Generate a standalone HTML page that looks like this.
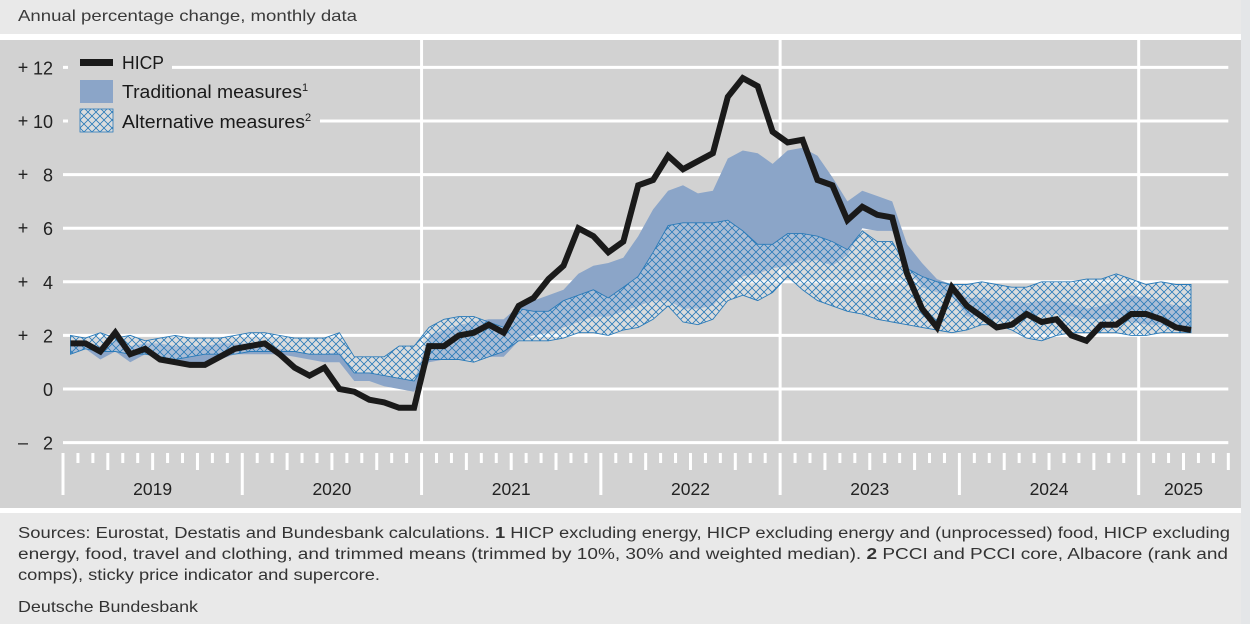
<!DOCTYPE html>
<html><head><meta charset="utf-8"><style>
html,body{margin:0;padding:0;background:#e4e6e8;}
svg{display:block;font-family:"Liberation Sans",sans-serif;}
</style></head><body>
<svg id="chart" width="1250" height="624" viewBox="0 0 1250 624">
<defs>
<pattern id="hatch" patternUnits="userSpaceOnUse" width="8" height="8">
<rect width="8" height="8" fill="rgba(235,238,242,0.35)"/>
<path d="M0,0 L8,8 M8,0 L0,8" stroke="#2a7ab8" stroke-width="0.8" fill="none"/>
</pattern>
</defs>
<rect x="0" y="0" width="1241" height="624" fill="#e9e9e9"/>
<text x="18" y="21" font-size="16" fill="#3a3a3a" textLength="339" lengthAdjust="spacingAndGlyphs">Annual percentage change, monthly data</text>
<rect x="0" y="34" width="1241" height="6" fill="#ffffff"/>
<rect x="0" y="40" width="1241" height="468" fill="#d2d2d2"/>
<rect x="0" y="508" width="1241" height="5" fill="#ffffff"/>
<g id="grid"></g>
<g id="bands"></g>
<g id="hicpg"></g>
<g id="axes"></g>
<g>
<rect x="68" y="55" width="104" height="24" fill="#d2d2d2"/>
<rect x="68" y="108" width="252" height="27" fill="#d2d2d2"/>
<rect x="80" y="59" width="33" height="7" fill="#1a1a1a"/>
<text x="122" y="69" font-size="18" fill="#1a1a1a" textLength="42" lengthAdjust="spacingAndGlyphs">HICP</text>
<rect x="80" y="80" width="33" height="23" fill="#8ba5c8"/>
<text x="122" y="98" font-size="18" fill="#1a1a1a"><tspan textLength="180" lengthAdjust="spacingAndGlyphs">Traditional measures</tspan><tspan font-size="11" dy="-7">1</tspan></text>
<rect x="80" y="109" width="33" height="23" fill="url(#hatch)" stroke="#2a7ab8" stroke-width="0.8"/>
<text x="122" y="128" font-size="18" fill="#1a1a1a"><tspan textLength="183" lengthAdjust="spacingAndGlyphs">Alternative measures</tspan><tspan font-size="11" dy="-7">2</tspan></text>
</g>
<g font-size="15.5" fill="#333">
<text x="18" y="538" textLength="1212" lengthAdjust="spacingAndGlyphs">Sources: Eurostat, Destatis and Bundesbank calculations. <tspan font-weight="bold">1</tspan> HICP excluding energy, HICP excluding energy and (unprocessed) food, HICP excluding</text>
<text x="18" y="559" textLength="1210" lengthAdjust="spacingAndGlyphs">energy, food, travel and clothing, and trimmed means (trimmed by 10%, 30% and weighted median). <tspan font-weight="bold">2</tspan> PCCI and PCCI core, Albacore (rank and</text>
<text x="18" y="580" textLength="362" lengthAdjust="spacingAndGlyphs">comps), sticky price indicator and supercore.</text>
<text x="18" y="612" font-size="16" textLength="180" lengthAdjust="spacingAndGlyphs">Deutsche Bundesbank</text>
</g>
</svg>
<script>
const years = ["2019","2020","2021","2022","2023","2024","2025"];
const yTicks = [12,10,8,6,4,2,0,-2];
const hicp = [1.7,1.7,1.4,2.1,1.3,1.5,1.1,1.0,0.9,0.9,1.2,1.5,
1.6,1.7,1.3,0.8,0.5,0.8,0.0,-0.1,-0.4,-0.5,-0.7,-0.7,
1.6,1.6,2.0,2.1,2.4,2.1,3.1,3.4,4.1,4.6,6.0,5.7,
5.1,5.5,7.6,7.8,8.7,8.2,8.5,8.8,10.9,11.6,11.3,9.6,
9.2,9.3,7.8,7.6,6.3,6.8,6.5,6.4,4.3,3.0,2.3,3.8,
3.1,2.7,2.3,2.4,2.8,2.5,2.6,2.0,1.8,2.4,2.4,2.8,
2.8,2.6,2.3,2.2];
const tradUpper = [1.8,1.7,1.6,1.8,1.6,1.7,1.7,1.6,1.6,1.6,1.7,1.7,
1.7,1.6,1.5,1.4,1.3,1.3,1.4,0.6,0.6,0.5,0.4,0.3,
2.0,2.2,2.4,2.5,2.6,2.6,3.1,3.3,3.5,3.7,4.3,4.6,
4.7,4.9,5.7,6.7,7.4,7.6,7.3,7.4,8.6,8.9,8.8,8.4,
8.9,9.0,8.7,7.9,7.0,7.4,7.2,7.0,5.4,4.7,4.1,3.9,
3.4,3.4,3.3,3.3,3.2,3.3,3.3,3.2,3.0,3.1,3.3,3.5,
3.4,3.3,3.1,3.1];
const tradLower = [1.3,1.5,1.1,1.4,1.0,1.3,1.2,1.0,1.0,1.0,1.1,1.3,
1.3,1.3,1.3,1.2,1.1,1.0,1.0,0.3,0.3,0.1,0.0,-0.1,
1.0,1.1,1.1,1.1,1.2,1.2,1.8,2.0,2.1,2.3,2.5,2.7,
2.7,2.9,3.1,3.3,3.3,3.0,3.0,3.1,3.8,4.2,4.3,4.5,
4.6,4.8,4.8,4.6,5.0,6.0,5.9,5.9,4.5,3.8,3.6,3.5,
2.7,2.7,2.6,2.6,2.7,2.8,2.8,2.7,2.6,2.6,2.6,2.5,
2.4,2.4,2.3,2.2];
const altUpper = [2.0,1.9,2.1,1.9,2.0,1.8,1.9,2.0,1.9,1.9,1.9,2.0,
2.1,2.1,2.0,1.9,1.9,1.9,2.1,1.2,1.2,1.2,1.6,1.6,
2.3,2.6,2.7,2.7,2.5,2.3,3.0,2.9,2.9,3.3,3.5,3.7,
3.4,3.8,4.2,5.1,6.1,6.2,6.2,6.2,6.3,5.9,5.4,5.4,
5.8,5.8,5.7,5.5,5.2,5.9,5.5,5.5,4.5,4.2,4.0,3.9,
3.9,4.0,3.9,3.8,3.8,4.0,4.0,4.0,4.1,4.1,4.3,4.1,
3.9,4.0,3.9,3.9];
const altLower = [1.3,1.5,1.4,1.4,1.3,1.3,1.2,1.1,1.2,1.3,1.3,1.3,
1.4,1.4,1.4,1.4,1.3,1.3,1.3,0.6,0.6,0.5,0.4,0.3,
1.1,1.1,1.1,1.0,1.2,1.4,1.8,1.8,1.8,1.9,2.1,2.1,
2.0,2.2,2.3,2.6,3.1,2.5,2.4,2.6,3.3,3.5,3.3,3.6,
4.2,3.7,3.3,3.1,2.9,2.8,2.6,2.5,2.4,2.3,2.2,2.1,
2.2,2.4,2.4,2.2,1.9,1.8,2.0,2.1,2.1,2.1,2.1,2.0,
2.0,2.1,2.1,2.1];

const NS="http://www.w3.org/2000/svg";
const X0=63, MW=14.94, Y0=389, UNIT=26.8;
function xMonth(i){return X0+(i+0.5)*MW;}
function xEdge(k){return X0+k*MW;}
function yVal(v){return Y0-v*UNIT;}
function mk(tag,attrs,parent){const e=document.createElementNS(NS,tag);for(const k in attrs)e.setAttribute(k,attrs[k]);parent.appendChild(e);return e;}
const grid=document.getElementById('grid'),bands=document.getElementById('bands'),hg=document.getElementById('hicpg'),axes=document.getElementById('axes');
const nMonths=years.length*12-6;
const xEnd=xEdge(nMonths);
yTicks.forEach(v=>{
  const l=mk('line',{x1:X0,x2:xEnd,y1:yVal(v),y2:yVal(v),stroke:'#fff','stroke-width':3},grid);
  
  
  const sign=v>0?'+':(v<0?'\u2013':'');
  const s=mk('text',{x:23,y:yVal(v)+6,'font-size':18,fill:'#222','text-anchor':'middle'},axes);
  s.textContent=sign;
  
  
  const t=mk('text',{x:53,y:yVal(v)+7,'font-size':18,fill:'#222','text-anchor':'end'},axes);
  t.textContent=String(Math.abs(v));
  
  
});
[2,4,6].forEach(yi=>{
  const x=xEdge(yi*12);
  const l=mk('line',{x1:x,x2:x,y1:40,y2:yVal(-2),stroke:'#fff','stroke-width':3},grid);
  
  
});
for(let k=0;k<=nMonths;k++){
  const x=xEdge(k);
  const len=k%12===0?42:(k%3===0?17:10);
  const l=mk('line',{x1:x,x2:x,y1:453,y2:453+len,stroke:'#fff','stroke-width':3},axes);
  
  
}
years.forEach((y,i)=>{
  const last=i===years.length-1;
  const cx=last?(xEdge(72)+xEdge(nMonths))/2:xEdge(i*12+6);
  const t=mk('text',{x:cx,y:495,'font-size':17.5,fill:'#222','text-anchor':'middle'},axes);
  t.textContent=y;
  
  
});
function bandPath(up,lo){
  let d='';
  for(let i=0;i<up.length;i++)d+=(i?'L':'M')+xMonth(i).toFixed(1)+','+yVal(up[i]).toFixed(1);
  for(let i=lo.length-1;i>=0;i--)d+='L'+xMonth(i).toFixed(1)+','+yVal(lo[i]).toFixed(1);
  return d+'Z';
}
const tp=mk('path',{d:bandPath(tradUpper,tradLower),fill:'#8ba5c8'},bands);


const ap=mk('path',{d:bandPath(altUpper,altLower),fill:'url(#hatch)',stroke:'#2a7ab8','stroke-width':0.9},bands);


let d='';
hicp.forEach((v,i)=>{d+=(i?'L':'M')+xMonth(i).toFixed(1)+','+yVal(v).toFixed(1);});
const hl=mk('path',{d:d,fill:'none',stroke:'#1a1a1a','stroke-width':6,'stroke-linejoin':'miter','stroke-miterlimit':3},hg);


</script>
</body></html>
